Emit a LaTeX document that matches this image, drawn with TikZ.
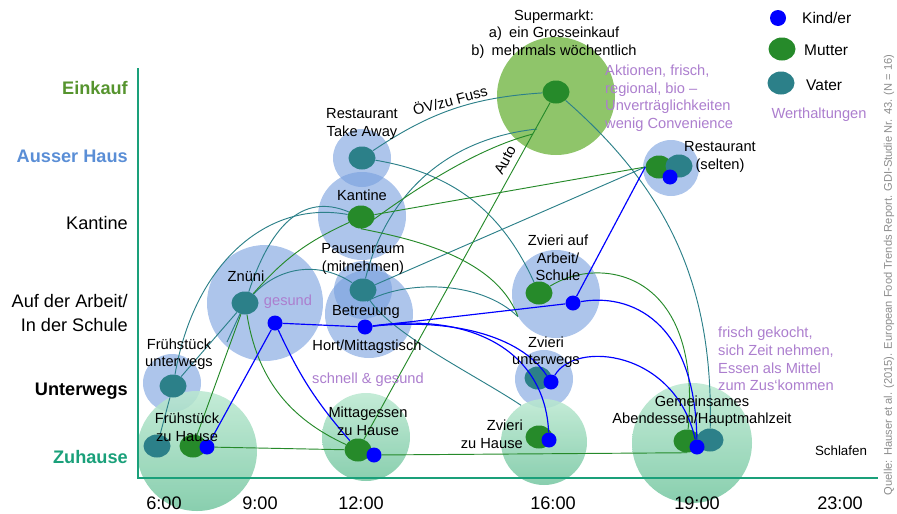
\documentclass[tikz,border=0pt]{standalone}
\usepackage{fontspec}
\setmainfont{Liberation Sans}
\usetikzlibrary{shapes.geometric}
\definecolor{vater}{RGB}{44,128,137}
\definecolor{mutter}{RGB}{38,138,42}
\definecolor{kind}{RGB}{0,0,255}
\definecolor{achse}{RGB}{26,160,122}
\definecolor{blaukreis}{RGB}{118,158,222}
\definecolor{gruenoben}{RGB}{186,232,208}
\definecolor{gruenunten}{RGB}{116,198,160}
\definecolor{markt}{RGB}{143,197,106}
\definecolor{lila}{RGB}{172,126,206}
\definecolor{einkauf}{RGB}{86,148,46}
\definecolor{ausser}{RGB}{90,142,214}
\definecolor{quelle}{RGB}{140,140,140}
\begin{document}
\begin{tikzpicture}[x=0.3mm,y=-0.3mm,
  every node/.style={font=\fontsize{12.5}{15}\selectfont,align=center,inner sep=0},
  ort/.style={circle,minimum size=#1*0.6mm,fill=blaukreis,fill opacity=.6},
  heim/.style={circle,minimum size=#1*0.6mm,top color=gruenoben,bottom color=gruenunten,fill opacity=.85},
  mu/.style={ellipse,minimum width=8.1mm,minimum height=6.9mm,fill=mutter},
  va/.style={ellipse,minimum width=8.1mm,minimum height=6.9mm,fill=vater},
  ki/.style={circle,minimum size=4.5mm,fill=kind},
  wert/.style={text=lila,align=left},
  achsentext/.style={font=\fontsize{15.5}{20}\selectfont,anchor=east,align=right},
  uhrzeit/.style={font=\fontsize{15.5}{18}\selectfont},
  legende/.style={font=\fontsize{13.2}{16}\selectfont,anchor=west},
  vl/.style={draw=vater,line width=.8pt},
  ml/.style={draw=mutter,line width=.8pt},
  kl/.style={draw=kind,line width=1pt}]
  \useasboundingbox (0,0) rectangle (897,514);

  \node[ort=59,fill=markt,fill opacity=1] (markt) at (556,96) {};
  \node[ort=29] (take) at (362,158) {};
  \node[ort=44] (kant) at (362,216) {};
  \node[ort=44] (betr) at (369,314) {};
  \node[ort=29] (pause) at (363,290) {};
  \node[ort=58] (znueni) at (265,303) {};
  \node[ort=29] (fu) at (172,383) {};
  \node[heim=60] (fzh) at (197,451) {};
  \node[heim=44] (mzh) at (366,437) {};
  \node[ort=44] (zaa) at (556,294) {};
  \node[ort=29] (zu) at (544,379) {};
  \node[heim=43] (zzh) at (544,442) {};
  \node[ort=28] (rs) at (671,168) {};
  \node[heim=60] (abend) at (692,443) {};

  \draw[achse,line width=2.5pt] (138,68) -- (138,478) -- (878,478);

  \node[mu] (marktm) at (556,92) {};
  \node[va] (takev) at (362,158) {};
  \node[mu] (kantm) at (361,217) {};
  \node[va] (pausev) at (363,290) {};
  \node[ki] (betrk) at (365,327) {};
  \node[va] (znv) at (245,303) {};
  \node[ki] (znk) at (275,323) {};
  \node[va] (fuv) at (173,386) {};
  \node[va] (fzhv) at (157,446) {};
  \node[mu] (fzhm) at (193,446) {};
  \node[ki] (fzhk) at (207,447) {};
  \node[mu] (mzhm) at (358,450) {};
  \node[ki] (mzhk) at (374,455) {};
  \node[mu] (zaam) at (539,293) {};
  \node[ki] (zaak) at (573,303) {};
  \node[va] (zuv) at (538,378) {};
  \node[ki] (zuk) at (551,382) {};
  \node[mu] (zzhm) at (539,437) {};
  \node[ki] (zzhk) at (549,440) {};
  \node[mu] (rsm) at (659,167) {};
  \node[va] (rsv) at (679,166) {};
  \node[ki] (rsk) at (670,177) {};
  \node[mu] (abendm) at (687,441) {};
  \node[va] (abendv) at (710,440) {};
  \node[ki] (abendk) at (697,447) {};

  \coordinate (mk1) at (537,129);
  \coordinate (mk2) at (533,134);
  \coordinate (stub) at (227,342);

  \draw[vl] (fzhv) -- (fuv);
  \draw[vl] (fuv) -- (znv);
  \draw[vl] (znv) -- (stub);
  \draw[vl] (fuv) .. controls +(22,-126) and +(-91,-17) .. (kantm);
  \draw[vl] (znv) .. controls +(25,-75) and +(-60,-25) .. (kantm);
  \draw[vl] (znv) to[bend left=40] (pausev);
  \draw[vl] (takev) to[bend left=15] (marktm);
  \draw[vl] (takev) to[bend left=28] (zaam);
  \draw[vl] (marktm) to[bend left=25] (abendv);
  \draw[vl] (pausev) -- (rsm.west);
  \draw[vl] (pausev) to[bend left=35] (mk1);
  \draw[vl] (pausev.-70) .. controls +(38,-21) and +(-38,-37) .. (zaa.211);
  \draw[vl] (pausev) .. controls +(30,45) and +(-45,-30) .. (zzh.122);

  \draw[ml] (fzhm) -- (znv);
  \draw[ml] (znv) to[bend right=28] (mzhm);
  \draw[ml] (fzhk) -- (mzhm);
  \draw[ml] (mzhk) -- (abendm.south);
  \draw[ml] (mzhm) -- (marktm);
  \draw[ml] (kantm) -- (rsm.west);
  \draw[ml] (znv) to[bend left=12] (kantm);
  \draw[ml] (kantm.south) .. controls +(39,-29) and +(-63,16) .. (mk2);
  \draw[ml] (kantm.south) .. controls +(44,9) and +(-23,-61) .. (zaa.210);
  \draw[ml] (zaam) .. controls +(61,-38) and +(16,-171) .. (abendm);

  \draw[kl] (fzhk) -- (znk);
  \draw[kl] (znk) to[bend right=8] (mzhm);
  \draw[kl] (znk) -- (betrk);
  \draw[kl] (betrk) -- (zaak);
  \draw[kl] (zaak) -- (rsm.west);
  \draw[kl] (zaak) .. controls +(57,-10) and +(-2,-127) .. (abendk);
  \draw[kl] (betrk) .. controls +(85,-9) and +(-31,-47) .. (zuk);
  \draw[kl] (betrk) .. controls +(105,-15) and +(-4,-90) .. (zzhk);
  \draw[kl] (zuk) .. controls +(24,-42) and +(-22,-97) .. (abendk);

  \node[rotate=15] (oev) at (450,100) {ÖV/zu Fuss};
  \node[rotate=62] (auto) at (505,160) {Auto};

  \node (lmarkt) at (554,34) {Supermarkt:\\a)\enspace ein Grosseinkauf\\b)\enspace mehrmals wöchentlich};
  \node (ltake) at (362,124) {Restaurant\\Take Away};
  \node (lkant) at (362,195) {Kantine};
  \node (lpause) at (363,259) {Pausenraum\\(mitnehmen)};
  \node (lbetr) at (366,312) {Betreuung};
  \node (lhort) at (367,347) {Hort/Mittagstisch};
  \node (lzn) at (246,276) {Znüni};
  \node[wert] (wzn) at (288,302) {gesund};
  \node (lfu) at (179,354) {Frühstück\\unterwegs};
  \node (lfzh) at (187,427) {Frühstück\\zu Hause};
  \node (lmzh) at (368,421) {Mittagessen\\zu Hause};
  \node[wert] (wmzh) at (368,380) {schnell \& gesund};
  \node (lzaa) at (558,258) {Zvieri auf\\Arbeit/\\Schule};
  \node (lzu) at (546,352) {Zvieri\\unterwegs};
  \node[align=right,anchor=east] (lzzh) at (523,434) {Zvieri\\zu Hause};
  \node (lrs) at (720,157) {Restaurant\\(selten)};
  \node (labend) at (702,411) {Gemeinsames\\Abendessen/Hauptmahlzeit};
  \node[font=\fontsize{11.4}{13}\selectfont] (lschlaf) at (841,451) {Schlafen};
  \node[wert,anchor=west] (wmarkt) at (605,98) {Aktionen, frisch,\\regional, bio –\\Unverträglichkeiten\\wenig Convenience};
  \node[wert,anchor=west] (wabend) at (718,359) {frisch gekocht,\\sich Zeit nehmen,\\Essen als Mittel\\zum Zus‘kommen};

  \node[ki,minimum size=4.8mm] (legk) at (778,18) {};
  \node[legende] (legkt) at (802,18) {Kind/er};
  \node[mu] (legm) at (782,49) {};
  \node[legende] (legmt) at (804,50) {Mutter};
  \node[va] (legv) at (781,83) {};
  \node[legende] (legvt) at (806,85) {Vater};
  \node[wert] (legw) at (819,115) {Werthaltungen};
  \node[rotate=90,text=quelle,font=\fontsize{9.5}{11}\selectfont] (quelle) at (889,275) {Quelle: Hauser et al. (2015). European Food Trends Report. GDI-Studie Nr. 43. (N = 16)};

  \node[achsentext,text=einkauf] (yeink) at (128,88) {\bfseries Einkauf};
  \node[achsentext,text=ausser] (yauss) at (128,156) {\bfseries Ausser Haus};
  \node[achsentext] (ykant) at (128,223) {Kantine};
  \node[achsentext] (yarb) at (128,313) {Auf der Arbeit/\\In der Schule};
  \node[achsentext] (yunt) at (128,391) {\bfseries Unterwegs};
  \node[achsentext,text=achse] (yzuh) at (128,457) {\bfseries Zuhause};
  \foreach \uhr/\px in {6:00/164,9:00/260,12:00/361,16:00/553,19:00/697,23:00/840}
    \node[uhrzeit] (t\px) at (\px,503) {\uhr};
\end{tikzpicture}
\end{document}
